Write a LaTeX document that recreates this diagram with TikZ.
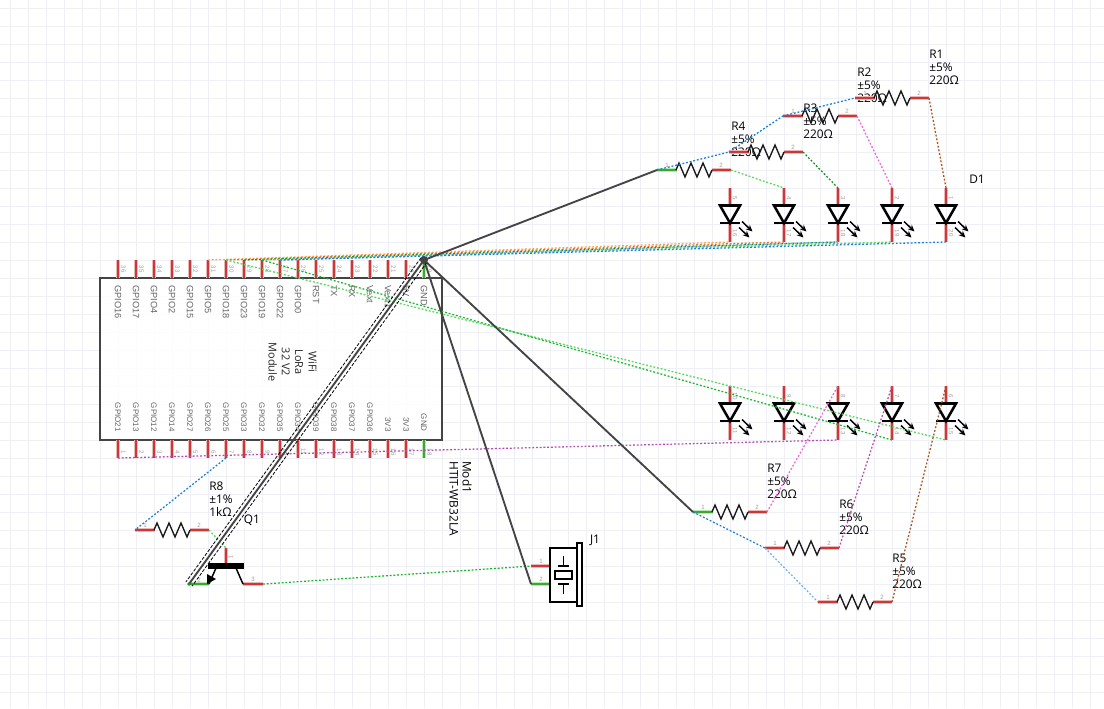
\documentclass[tikz,border=0pt]{standalone}
\usepackage{fontspec}
\setmainfont{Liberation Sans}
\newfontfamily\partfont{Open Sans}
\usetikzlibrary{arrows.meta}
\definecolor{gridc}{HTML}{EEF0F5}
\definecolor{pinred}{HTML}{C53B3B}
\definecolor{pinhalo}{HTML}{F0B4B4}
\definecolor{pingreen}{HTML}{3FA535}
\definecolor{greenhalo}{HTML}{B5EBAF}
\definecolor{wirek}{HTML}{444444}
\definecolor{netblue}{HTML}{1F7FD8}
\definecolor{netlblue}{HTML}{6FB2EE}
\definecolor{netgreen}{HTML}{17B82B}
\definecolor{netlgreen}{HTML}{55D85A}
\definecolor{netorange}{HTML}{E8761E}
\definecolor{netlorange}{HTML}{F5A65E}
\definecolor{netpink}{HTML}{EE66DD}
\definecolor{netpurple}{HTML}{B24FB0}
\definecolor{netbrown}{HTML}{A8561F}
\definecolor{labgray}{HTML}{666666}
\definecolor{numgray}{HTML}{A0A0A0}
\tikzset{
  x=0.75pt,y=-0.75pt,
  gridline/.style={draw=gridc,line width=0.7pt},
  redpin/.style={draw=pinred,line width=1.6pt,preaction={draw=pinhalo,line width=2.9pt}},
  greenpin/.style={draw=pingreen,line width=1.6pt,preaction={draw=greenhalo,line width=2.9pt}},
  net/.style={line width=0.95pt,dash pattern=on 1.4pt off 1.4pt},
  wire/.style={draw=wirek,line width=1.4pt},
  symb/.style={draw=black,line width=1.9pt},
  zig/.style={draw=black!90,line width=1pt,line join=miter},
  pinlabel/.style={text=labgray,font=\fontsize{6.9}{8}\selectfont,inner sep=0pt},
  botlabel/.style={text=labgray,font=\fontsize{6}{7}\selectfont,inner sep=0pt},
  num/.style={text=numgray,font=\fontsize{4.6}{5}\selectfont,inner sep=0pt},
  part/.style={text=black,font=\partfont\fontsize{8.9}{9.9}\selectfont,inner sep=0pt,align=left},
}
% name, x, y, style of pin 1, style of pin 2, ref, tol, value
\newcommand{\myres}[8]{%
  \coordinate (#1a) at (#2,#3);
  \coordinate (#1b) at (#2+74,#3);
  \draw[#4] (#1a) -- ++(19.5,0);
  \draw[#5] (#1b) -- ++(-19.5,0);
  \draw[zig] (#2+19,#3) -- ++(3,-7) -- ++(6,14) -- ++(6,-14) -- ++(6,14) -- ++(6,-14) -- ++(6,14) -- ++(3,-7);
  \node[num] (#1n1) at (#2+10,#3-5) {1};
  \node[num] (#1n2) at (#2+64,#3-5) {2};
  \node[part,anchor=south west] (#1t) at (#2+74,#3-13) {#6\\#7\\#8};
}
% name, x, top y, upper number, lower number
\newcommand{\myled}[5]{%
  \coordinate (#1t) at (#2,#3);
  \coordinate (#1b) at (#2,#3+54);
  \draw[redpin] (#1t) -- ++(0,18);
  \draw[redpin] (#1b) -- ++(0,-18);
  \draw[symb,line join=miter] (#2-10,#3+17.5) -- (#2+10,#3+17.5) -- (#2,#3+35) -- cycle;
  \draw[symb] (#2-10,#3+35) -- (#2+10,#3+35);
  \draw[-{Stealth[length=5pt,width=4.5pt]},draw=black,line width=1.1pt] (#2+12,#3+33.5) -- (#2+22.5,#3+43.5);
  \draw[-{Stealth[length=5pt,width=4.5pt]},draw=black,line width=1.1pt] (#2+9,#3+39.5) -- (#2+19.5,#3+49.5);
  \node[num,rotate=-90] (#1n1) at (#2+5,#3+10) {#4};
  \node[num,rotate=-90] (#1n2) at (#2+5,#3+45) {#5};
}
\begin{document}
\begin{tikzpicture}
\useasboundingbox (0,0) rectangle (1104,708);
\fill[white] (0,0) rectangle (1104,708);
\foreach \k in {0,...,61} {\draw[gridline] (10+18*\k,0) -- (10+18*\k,708);}
\foreach \k in {0,...,39} {\draw[gridline] (0,8+18*\k) -- (1104,8+18*\k);}

% module
\draw[draw=wirek,line width=1.9pt,fill=white,fill opacity=0.8] (100,278) rectangle (442,440);
\node[part,rotate=-90,align=center,text=black!85,font=\partfont\fontsize{8.2}{10}\selectfont] (modtext) at (292.5,362) {WiFi\\LoRa\\32 V2\\Module};
\node[part,rotate=-90,anchor=north west,align=left,font=\partfont\fontsize{8.9}{9.8}\selectfont] (modname) at (472,461) {Mod1\\HTIT-WB32LA};

\foreach \i/\n/\lab in {0/36/GPIO16,1/35/GPIO17,2/34/GPIO4,3/33/GPIO2,4/32/GPIO15,5/31/GPIO5,6/30/GPIO18,7/29/GPIO23,8/28/GPIO19,9/27/GPIO22,10/26/GPIO0,11/25/RST,12/24/TX,13/23/RX,14/22/Vext,15/21/Vext1,16/20/5V} {
  \coordinate (p\n) at (118+18*\i,260);
  \draw[redpin] (p\n) -- ++(0,18);
  \node[num,rotate=-90] (pn\n) at (123.5+18*\i,269) {\n};
  \node[pinlabel,rotate=-90,anchor=west] (pl\n) at (118+18*\i,285) {\lab};
}
\coordinate (p19) at (424,260);
\draw[greenpin] (p19) -- ++(0,18);
\node[num,rotate=-90] (pn19) at (429.5,269) {19};
\node[pinlabel,rotate=-90,anchor=west] (pl19) at (424,285) {GND};

\foreach \i/\n/\lab in {0/1/GPIO21,1/2/GPIO13,2/3/GPIO12,3/4/GPIO14,4/5/GPIO27,5/6/GPIO26,6/7/GPIO25,7/8/GPIO33,8/9/GPIO32,9/10/GPIO35,10/11/GPIO34,11/12/GPIO39,12/13/GPIO38,13/14/GPIO37,14/15/GPIO36,15/16/3V3,16/17/3V3} {
  \coordinate (p\n) at (118+18*\i,458);
  \draw[redpin] (p\n) -- ++(0,-18);
  \node[num,rotate=-90] (pn\n) at (123.5+18*\i,452) {\n};
  \node[botlabel,rotate=-90,anchor=east] (pl\n) at (118+18*\i,432) {\lab};
}
\coordinate (p18) at (424,458);
\draw[greenpin] (p18) -- ++(0,-18);
\node[num,rotate=-90] (pn18) at (429.5,452) {18};
\node[botlabel,rotate=-90,anchor=east] (pl18) at (424,432) {GND};

% LEDs
\myled{la}{730}{188}{5}{16}
\myled{lb}{784}{188}{4}{17}
\myled{lc}{838}{188}{3}{18}
\myled{ld}{892}{188}{2}{19}
\myled{le}{946}{188}{1}{20}
\myled{lf}{730}{386}{10}{11}
\myled{lg}{784}{386}{9}{12}
\myled{lh}{838}{386}{8}{13}
\myled{li}{892}{386}{7}{14}
\myled{lj}{946}{386}{6}{15}
\node[part] (d1) at (977,179) {D1};

% resistors
\myres{ra}{657}{170}{greenpin}{redpin}{R4}{±5\%}{220Ω}
\myres{rb}{729}{152}{redpin}{redpin}{R3}{±5\%}{220Ω}
\myres{rc}{783}{116}{redpin}{redpin}{R2}{±5\%}{220Ω}
\myres{rd}{855}{98}{redpin}{redpin}{R1}{±5\%}{220Ω}
\myres{re}{693}{512}{greenpin}{redpin}{R7}{±5\%}{220Ω}
\myres{rf}{765}{548}{redpin}{redpin}{R6}{±5\%}{220Ω}
\myres{rg}{818}{602}{redpin}{redpin}{R5}{±5\%}{220Ω}
\myres{rh}{135}{530}{redpin}{redpin}{R8}{±1\%}{1kΩ}

% transistor
\coordinate (qb) at (226,548);
\coordinate (qe) at (189,584);
\coordinate (qc) at (263,584);
\draw[redpin] (qb) -- (226,566);
\draw[greenpin] (qe) -- (209,584);
\draw[redpin] (qc) -- (243,584);
\draw[draw=black,line width=3.8pt] (208,566) -- (244,566);
\draw[draw=black,line width=1.1pt] (216,568) -- (209,584);
\draw[draw=black,line width=1.1pt] (236,568) -- (243,584);
\fill[black] (207,574) -- (216,579) -- (207,584) -- cycle;
\node[num,rotate=-90] (qn1) at (231,557) {1};
\node[num] (qn2) at (199,580) {2};
\node[num] (qn3) at (253,579) {3};
\node[part] (q1) at (252,520) {Q1};

% crystal
\coordinate (ja) at (531,566);
\coordinate (jb) at (531,584);
\draw[redpin] (ja) -- (550,566);
\draw[greenpin] (jb) -- (550,584);
\draw[symb,fill=white] (550,548) rectangle (577,602);
\draw[symb,fill=white] (577,543) rectangle (582,606);
\draw[draw=black,line width=1.1pt,fill=white] (555,571) rectangle (572,579);
\draw[draw=black,line width=1.1pt] (558,566) -- (569,566) (563.5,556) -- (563.5,566);
\draw[draw=black,line width=1.1pt] (558,584) -- (569,584) (563.5,584) -- (563.5,594);
\node[num] (jn1) at (541,561) {1};
\node[num] (jn2) at (541,579) {2};
\node[part] (j1) at (595,540) {J1};

% nets
\draw[net,draw=netlorange] (p31) -- (lab);
\draw[net,draw=netorange] (p30) -- (lbb);
\draw[net,draw=netgreen!80!black] (p29) -- (lcb);
\draw[net,draw=netlgreen] (p28) -- (ldb);
\draw[net,draw=netlblue] (p27) -- (lcb);
\draw[net,draw=netblue] (p27) -- (leb);
\draw[net,draw=netlgreen] (p30) -- (ljb);
\draw[net,draw=netgreen] (p28) -- (lib);
\draw[net,draw=netpurple] (p1) -- (lhb);
\draw[net,draw=netblue] (p7) -- (rha);
\draw[net,draw=netlgreen] (rhb) -- (qb);
\draw[net,draw=netgreen] (qc) -- (ja);
\draw[net,draw=netblue] (raa) -- (rba);
\draw[net,draw=netblue] (rba) -- (rca);
\draw[net,draw=netblue] (rca) -- (rda);
\draw[net,draw=netlgreen] (rab) -- (lbt);
\draw[net,draw=netgreen!80!black] (rbb) -- (lct);
\draw[net,draw=netpink] (rcb) -- (ldt);
\draw[net,draw=netbrown] (rdb) -- (let);
\draw[net,draw=netblue] (rea) -- (rfa);
\draw[net,draw=netlblue] (rfa) -- (rga);
\draw[net,draw=netpink] (reb) -- (lht);
\draw[net,draw=netpurple] (rfb) -- (lit);
\draw[net,draw=netbrown] (rgb) -- (ljt);

% heavy ratsnest
\draw[wire] (p19) -- (raa);
\draw[wire] (p19) -- (rea);
\draw[wire] (p19) -- (jb);
\draw[wire] (p19) -- (qe);
\draw[draw=black,line width=0.6pt,dash pattern=on 2.4pt off 1.2pt] ([shift={(-3,-2.2)}]p19) -- ([shift={(-3,-2.2)}]qe);
\draw[draw=black,line width=0.6pt,dash pattern=on 2.4pt off 1.2pt] ([shift={(3,2.2)}]p19) -- ([shift={(3,2.2)}]qe);
\fill[wirek] (p19) circle[radius=4];
\fill[netgreen!80!black] (qe) circle[radius=1.8];
\end{tikzpicture}
\end{document}
